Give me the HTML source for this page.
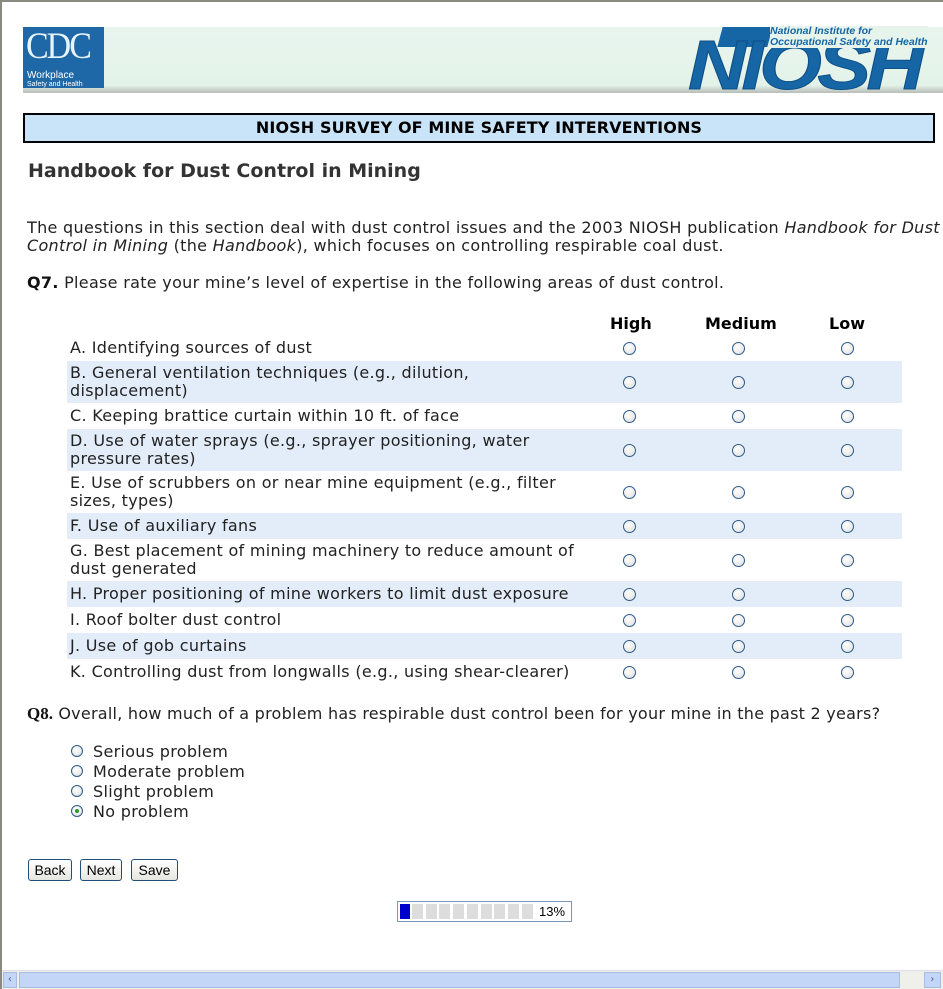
<!DOCTYPE html>
<html><head><meta charset="utf-8"><style>
*{margin:0;padding:0;box-sizing:border-box}
body{width:943px;height:989px;position:relative;background:#fff;font-family:"DejaVu Sans","Liberation Sans",sans-serif;font-size:16px;letter-spacing:0.3px;color:#222;overflow:hidden}
.a{position:absolute;white-space:nowrap}
.r{position:absolute;width:13px;height:13px;border-radius:50%;border:1px solid #2c5a8a;background:radial-gradient(circle at 40% 35%,#fff,#ddd)}
.row{position:absolute;left:67px;width:835px}
.row.s{background:#e3edf9}
.lbl{position:absolute;left:3px;line-height:18px}
.btn{position:absolute;top:859px;height:22px;border:1px solid #1f4f7a;border-radius:3px;background:linear-gradient(#fff,#e6e6e0);font-family:"Liberation Sans",sans-serif;font-size:14px;letter-spacing:0;text-align:center;line-height:20px;color:#000}
</style></head><body>
<div class="a" style="left:0;top:0;width:943px;height:2px;background:#8a8a80"></div>
<div class="a" style="left:0;top:0;width:2px;height:989px;background:#8a8a80"></div>
<div class="a" style="left:23px;top:27px;width:920px;height:66px;background:linear-gradient(#e8f5ee,#e4f3ea 88%,#b8bdb8)"></div>
<div class="a" style="left:23px;top:27px;width:81px;height:61px;background:#1e68a8"></div>
<div class="a" style="left:26px;top:28px;font-family:'Liberation Serif',serif;font-size:34px;letter-spacing:-2px;color:#e8f4fb;transform:scaleY(1.1)">CDC</div>
<div class="a" style="left:27px;top:72px;font-family:'Liberation Sans';font-size:10px;letter-spacing:0;color:#fff;line-height:8px">Workplace<br><span style="font-size:7px">Safety and Health</span></div>
<div class="a" style="left:720px;top:27px;width:50px;height:20px;background:#1666a6;transform:skewX(-15deg)"></div>
<div class="a" style="left:688px;top:34px;height:59px;overflow:hidden;width:255px"><div style="position:absolute;left:0;top:-4px;font-family:'Liberation Sans';font-style:italic;font-weight:bold;font-size:70px;letter-spacing:-4px;color:#1666a6;line-height:70px;transform-origin:0 0;transform:scaleX(1.15);-webkit-text-stroke:1px #0e4f86">NIOSH</div></div>
<div class="a" style="left:770px;top:26px;font-family:'Liberation Sans';font-style:italic;font-weight:bold;font-size:10.5px;letter-spacing:0;color:#1666a6;line-height:11px;background:#e6f4eb">National Institute for<br>Occupational Safety and Health</div>
<div class="a" style="left:23px;top:113px;width:912px;height:30px;background:#c9e4f8;border:2px solid #000;text-align:center;font-weight:bold;font-size:16px;letter-spacing:0.1px;line-height:26px;color:#000">NIOSH SURVEY OF MINE SAFETY INTERVENTIONS</div>
<div class="a" style="left:28px;top:160px;font-weight:bold;font-size:19px;letter-spacing:0;color:#333">Handbook for Dust Control in Mining</div>
<div class="a" style="left:27px;top:219px;line-height:18px">The questions in this section deal with dust control issues and the 2003 NIOSH publication <i>Handbook for Dust</i><br><i>Control in Mining</i> (the <i>Handbook</i>), which focuses on controlling respirable coal dust.</div>
<div class="a" style="left:27px;top:273px"><b style="color:#111">Q7.</b> Please rate your mine’s level of expertise in the following areas of dust control.</div>
<div class="a" style="left:610px;top:314px;font-weight:bold;color:#000;letter-spacing:0">High</div>
<div class="a" style="left:705px;top:314px;font-weight:bold;color:#000;letter-spacing:0">Medium</div>
<div class="a" style="left:829px;top:314px;font-weight:bold;color:#000;letter-spacing:0">Low</div>

<div class="row" style="top:335px;height:26px"><div class="lbl" style="top:4px">A. Identifying sources of dust</div></div>
<div class="row s" style="top:361px;height:42px"><div class="lbl" style="top:3px">B. General ventilation techniques (e.g., dilution,<br>displacement)</div></div>
<div class="row" style="top:403px;height:26px"><div class="lbl" style="top:4px">C. Keeping brattice curtain within 10 ft. of face</div></div>
<div class="row s" style="top:429px;height:42px"><div class="lbl" style="top:3px">D. Use of water sprays (e.g., sprayer positioning, water<br>pressure rates)</div></div>
<div class="row" style="top:471px;height:42px"><div class="lbl" style="top:3px">E. Use of scrubbers on or near mine equipment (e.g., filter<br>sizes, types)</div></div>
<div class="row s" style="top:513px;height:26px"><div class="lbl" style="top:4px">F. Use of auxiliary fans</div></div>
<div class="row" style="top:539px;height:42px"><div class="lbl" style="top:3px">G. Best placement of mining machinery to reduce amount of<br>dust generated</div></div>
<div class="row s" style="top:581px;height:26px"><div class="lbl" style="top:4px">H. Proper positioning of mine workers to limit dust exposure</div></div>
<div class="row" style="top:607px;height:26px"><div class="lbl" style="top:4px">I. Roof bolter dust control</div></div>
<div class="row s" style="top:633px;height:26px"><div class="lbl" style="top:4px">J. Use of gob curtains</div></div>
<div class="row" style="top:659px;height:26px"><div class="lbl" style="top:4px">K. Controlling dust from longwalls (e.g., using shear-clearer)</div></div>

<div id="radios"></div>
<script>
var ys=[348,382,416,450,492,526,560,594,620,646,672],xs=[629,738,847],h='';
ys.forEach(function(y){xs.forEach(function(x){h+='<div class="r" style="left:'+(x-6.5)+'px;top:'+(y-6.5)+'px"></div>'})});
document.getElementById('radios').innerHTML=h;
</script>

<div class="a" style="left:27px;top:704px;letter-spacing:0.25px"><b style="font-family:'Liberation Serif',serif;font-size:17px;color:#111;letter-spacing:0">Q8.</b> Overall, how much of a problem has respirable dust control been for your mine in the past 2 years?</div>
<div class="r" style="left:71px;top:745px;width:12px;height:12px"></div>
<div class="a" style="left:93px;top:742px">Serious problem</div>
<div class="r" style="left:71px;top:765px;width:12px;height:12px"></div>
<div class="a" style="left:93px;top:762px">Moderate problem</div>
<div class="r" style="left:71px;top:785px;width:12px;height:12px"></div>
<div class="a" style="left:93px;top:782px">Slight problem</div>
<div class="r" style="left:71px;top:805px;width:12px;height:12px"><div style="position:absolute;left:3px;top:3px;width:4px;height:4px;border-radius:50%;background:#2a9a2a"></div></div>
<div class="a" style="left:93px;top:802px">No problem</div>

<div class="btn" style="left:28px;width:44px">Back</div>
<div class="btn" style="left:80px;width:42px">Next</div>
<div class="btn" style="left:131px;width:47px">Save</div>

<div class="a" style="left:397px;top:901px;width:175px;height:21px;border:1px solid #7a97b8"></div>
<div class="a" style="left:400px;top:904px;width:10px;height:15px;background:#0000cc"></div>
<div id="pb"></div>
<script>
var p='';for(var i=0;i<9;i++){p+='<div class="a" style="left:'+(412+i*13.7)+'px;top:904px;width:11px;height:15px;background:#ddd"></div>'}
document.getElementById('pb').innerHTML=p;
</script>
<div class="a" style="left:539px;top:904px;font-family:'Liberation Sans';font-size:13px;letter-spacing:0;color:#000">13%</div>

<div class="a" style="left:2px;top:970px;width:941px;height:19px;background:#f0f0ea;border-top:1px solid #dde"></div>
<div class="a" style="left:3px;top:972px;width:14px;height:16px;background:#c4d6f7;border:1px solid #a8bce0;font-size:10px;text-align:center;color:#4d6185;line-height:14px">‹</div>
<div class="a" style="left:19px;top:972px;width:881px;height:16px;background:#c4d6f7;border:1px solid #a8bce0"></div>
<div class="a" style="left:924px;top:972px;width:17px;height:16px;background:#c4d6f7;border:1px solid #a8bce0;font-size:10px;text-align:center;color:#4d6185;line-height:14px">›</div>
</body></html>
